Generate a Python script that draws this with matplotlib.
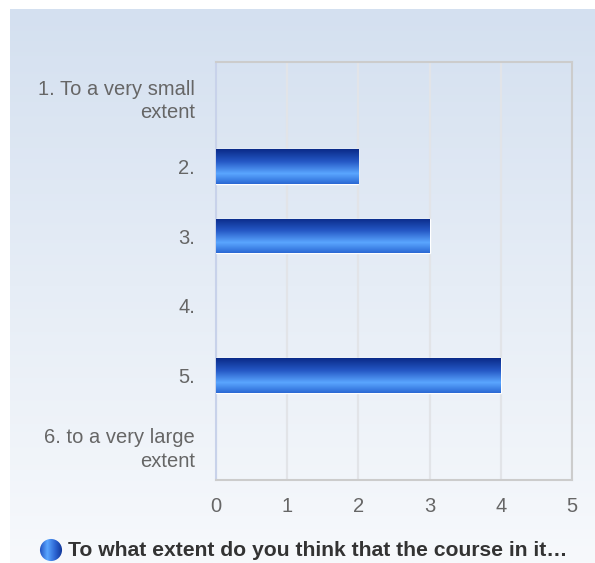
import numpy as np
import matplotlib.pyplot as plt
from matplotlib.colors import LinearSegmentedColormap
from matplotlib.patches import Circle

plt.rcParams["font.family"] = ["Liberation Sans", "DejaVu Sans"]

categories = ["1. To a very small\nextent", "2.", "3.", "4.", "5.", "6. to a very large\nextent"]
values = [0, 2, 3, 0, 4, 0]
x_ticks = [0, 1, 2, 3, 4, 5]
series_name = "To what extent do you think that the course in it\u2026"

W, H = 595, 563
fig = plt.figure(figsize=(W / 100, H / 100), dpi=100, facecolor="white")

# background gradient panel
bg = fig.add_axes([10 / W, 0, 1 - 10 / W, (H - 9) / H], zorder=0)
grad = np.linspace(0, 1, 256).reshape(-1, 1)
bg_cmap = LinearSegmentedColormap.from_list("bg", ["#d4e0f0", "#e6edf6", "#f7f9fc"])
bg.imshow(grad, aspect="auto", cmap=bg_cmap, extent=[0, 1, 0, 1], origin="upper")
bg.set_axis_off()

ax = fig.add_axes([216 / W, (H - 480) / H, (572 - 216) / W, (480 - 62) / H], zorder=1)
ax.patch.set_alpha(0)

y = np.arange(len(categories))
edges = ["white" if v > 0 else "none" for v in values]
bars = ax.barh(y, values, height=0.49, color="#2a62d0", edgecolor=edges, linewidth=1, zorder=3)

# dark at top, light band ~70% down, a bit darker at the bottom
bar_cmap = LinearSegmentedColormap.from_list(
    "bar", [(0, "#0a2a88"), (0.35, "#2457c4"), (0.7, "#5aa6ff"), (1, "#2a68d4")])
for b, v in zip(bars, values):
    if v <= 0:
        continue
    x0, y0, w, h = b.get_x(), b.get_y(), b.get_width(), b.get_height()
    im = ax.imshow(grad, aspect="auto", cmap=bar_cmap, zorder=4,
                   extent=[x0, x0 + w, y0 + h, y0], origin="upper")
    im.set_clip_path(b)

ax.set_xlim(0, 5)
ax.set_ylim(len(categories) - 0.5, -0.5)
ax.set_xticks(x_ticks)
ax.set_yticks(y)
ax.set_yticklabels(categories, ha="right", linespacing=1.3)
ax.tick_params(axis="both", length=0, labelsize=14.5, labelcolor="#666666")
ax.tick_params(axis="y", pad=15)
ax.tick_params(axis="x", pad=12)
ax.grid(axis="x", color="#e2e4e8", linewidth=1.6, zorder=1)
ax.set_axisbelow(True)
for side in ["top", "right", "bottom"]:
    ax.spines[side].set_color("#cccccc")
    ax.spines[side].set_linewidth(1.5)
ax.spines["left"].set_color("#c8d2ea")
ax.spines["left"].set_linewidth(1.5)

# legend: gradient dot + bold label
lax = fig.add_axes([39 / W, (H - 562) / H, 24 / W, 24 / H], zorder=2)
lax.set_xlim(0, 1)
lax.set_ylim(0, 1)
lax.set_axis_off()
dot = Circle((0.5, 0.5), 0.46, transform=lax.transAxes, facecolor="none", edgecolor="none")
lax.add_patch(dot)
hgrad = np.linspace(0, 1, 256).reshape(1, -1)
dot_cmap = LinearSegmentedColormap.from_list("dot", ["#1a48b8", "#5aa6ff", "#2a62d0", "#0a2a88"])
dim = lax.imshow(hgrad, aspect="auto", cmap=dot_cmap, extent=[0, 1, 0, 1])
dim.set_clip_path(dot)

fig.text(68 / W, (H - 550) / H, series_name, fontsize=15.2, fontweight="bold",
         color="#333333", va="center", ha="left")

fig.savefig("out.png", dpi=100, facecolor="white")
